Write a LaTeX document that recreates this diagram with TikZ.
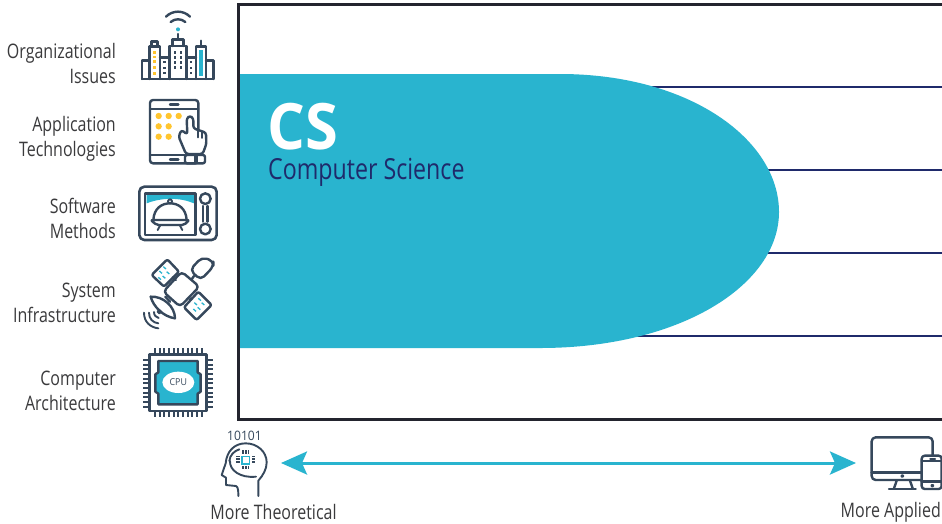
\documentclass[tikz,border=0pt]{standalone}
\usepackage{fontspec}
\setmainfont[FakeStretch=0.8]{Open Sans}
\newfontfamily\csbold[FakeStretch=0.93]{Open Sans}
\usetikzlibrary{arrows.meta}
\definecolor{teal1}{HTML}{29B4CF}
\definecolor{navy}{HTML}{1F2A6B}
\definecolor{slate}{HTML}{36485C}
\definecolor{frameblk}{HTML}{23242E}
\definecolor{gold}{HTML}{FFC52F}
\definecolor{greytxt}{HTML}{3A3A3C}
\tikzset{
  lab/.style={font=\fontsize{20}{25}\selectfont,text=greytxt,align=right,anchor=east,inner sep=0pt},
  captext/.style={font=\fontsize{20}{25}\selectfont,text=greytxt,inner sep=0pt},
  ico/.style={draw=slate,line width=2.4pt,line join=round,line cap=round},
  thin ico/.style={draw=slate,line width=1.9pt,line join=round,line cap=round},
  rowline/.style={draw=navy,line width=2.3pt},
  third/.style={scale=1/3}
}
\begin{document}
\begin{tikzpicture}[x=1pt,y=-1pt]
\useasboundingbox (0,0) rectangle (942,523);
\fill[white] (0,0) rectangle (942,523);
% rows
\coordinate (r1) at (942,87); \coordinate (r2) at (942,170); \coordinate (r3) at (942,253); \coordinate (r4) at (942,336);
\coordinate (l1) at (600,87); \coordinate (l2) at (700,170); \coordinate (l3) at (700,253); \coordinate (l4) at (600,336);
\foreach \i in {1,2,3,4} \draw[rowline] (l\i) -- (r\i);
% blob
\fill[teal1] (238,74) -- (560,74) .. controls (690,74) and (779,140) .. (779,212)
  .. controls (779,285) and (680,348) .. (540,348) -- (238,348) -- cycle;
% frame
\draw[frameblk,line width=3pt] (942,4) -- (238,4) -- (238,419) -- (942,419);
% texts
\node[anchor=base west,inner sep=0pt,text=white] (cs) at (267,149) {\fontsize{64}{64}\selectfont\csbold\bfseries CS};
\node[anchor=base west,inner sep=0pt,text=navy] (csname) at (268,179) {\fontsize{29}{32}\selectfont Computer Science};
\node[lab] (t1) at (116,63) {Organizational\\Issues};
\node[lab] (t2) at (116,139) {Application\\Technologies};
\node[lab] (t3) at (116,218) {Software\\Methods};
\node[lab] (t4) at (116,302.5) {System\\Infrastructure};
\node[lab] (t5) at (116,391) {Computer\\Architecture};
\node[captext] (theory) at (273.5,512) {More Theoretical};
\node[captext,anchor=east] (applied) at (941,512) {More Applied};
\node[inner sep=0pt,text=slate] (bits) at (244.5,436) {\fontsize{13}{13}\selectfont\csbold 10101};
% arrow
\coordinate (al) at (281,463); \coordinate (ar) at (856,463);
\draw[teal1,line width=3pt,{Stealth[length=26pt,width=23pt,inset=5pt]}-{Stealth[length=26pt,width=23pt,inset=5pt]}] (al) -- (ar);
% city
\begin{scope}[shift={(130,0)},third]
\draw[ico] (108,50) .. controls (128,30) and (160,30) .. (180,50);
\draw[ico] (122,66) .. controls (135,55) and (153,55) .. (166,66);
\fill[teal1] (144,88) circle (6);
\draw[ico] (36,237) -- (250,237);
\draw[ico] (36,237) -- (36,182) -- (58,182);
\draw[ico] (250,237) -- (250,182) -- (228,182);
\draw[ico] (58,237) -- (58,140) -- (90,140) -- (90,237);
\draw[ico] (90,172) -- (118,172);
\draw[ico] (118,237) -- (118,138) -- (170,138) -- (170,237);
\draw[ico] (170,172) -- (198,172);
\draw[ico] (198,237) -- (198,140) -- (228,140) -- (228,237);
\draw[ico] (128,138) -- (128,118) -- (160,118) -- (160,138);
\draw[ico] (144,118) -- (144,102);
\draw[ico] (65,140) -- (65,125) -- (82,125) -- (82,140);
\draw[ico] (213,140) -- (213,122);
\fill[teal1] (208,150) rectangle (220,228);
\foreach \y in {157,171,185,203,220} \fill[gold] (69,\y-4) rectangle (78,\y+4);
\foreach \y in {157,172,187,203} \foreach \x in {135,153} \fill[slate] (\x-3.5,\y-4) rectangle (\x+3.5,\y+4);
\foreach \y in {187,203,218} {\fill[slate] (100,\y-3) rectangle (107,\y+3); \fill[slate] (180,\y-3) rectangle (187,\y+3);}
\end{scope}
% tablet
\begin{scope}[shift={(130,0)},third]
\draw[ico,rounded corners=3pt] (60,300) rectangle (205,490);
\draw[ico] (60,327) -- (205,327);
\draw[ico] (60,465) -- (165,465);
\draw[ico] (120,313) -- (145,313);
\draw[ico] (120,478) -- (145,478);
\foreach \p in {(86,348),(116,348),(146,348),(86,379),(116,379),(86,410),(116,410)} \fill[gold] \p circle (9.5);
\draw[ico,fill=white,rounded corners=2.5pt] (168,462) -- (146,410) -- (154,390) -- (172,403) -- (170,355) -- (180,347) -- (190,355) -- (190,385) -- (228,398) -- (229,432) -- (218,462) -- cycle;
\draw[thin ico] (205,392) -- (205,412);
\draw[thin ico] (217,396) -- (217,414);
\draw[ico,fill=white,rounded corners=2pt] (165,465) rectangle (225,490);
\draw[thin ico,fill=slate] (196,465) rectangle (200,490);
\end{scope}
% microwave
\begin{scope}[shift={(130,170)},third]
\draw[ico,line width=2.6pt,rounded corners=5pt] (28,50) rectangle (260,210);
\fill[teal1] (50,75) -- (192,75) -- (192,100) .. controls (150,82) and (95,82) .. (50,100) -- cycle;
\draw[ico,line width=2.6pt] (45,70) rectangle (196,195);
\draw[ico] (70,150) .. controls (72,115) and (95,100) .. (120,100) .. controls (145,100) and (168,115) .. (170,150);
\draw[thin ico] (120,94) circle (6);
\draw[ico,rounded corners=2pt] (62,150) -- (178,150) -- (162,165) -- (80,165) -- cycle;
\draw[thin ico] (90,167) -- (83,180);
\draw[thin ico] (150,167) -- (157,180);
\draw[ico] (226,86) circle (16);
\draw[ico] (226,177) circle (16);
\draw[ico] (219,108) -- (219,155);
\draw[ico] (233,108) -- (233,155);
\end{scope}
% satellite
\begin{scope}[shift={(130,170)},third]
\draw[ico,rounded corners=2pt] (112,268) -- (147,305) -- (102,350) -- (65,315) -- cycle;
\draw[ico,rounded corners=2pt] (205,365) -- (245,405) -- (200,450) -- (162,412) -- cycle;
\draw[ico,rounded corners=4pt] (155,305) -- (208,350) -- (150,410) -- (100,365) -- cycle;
\draw[ico,rounded corners=5pt] (180,300) -- (215,262) -- (250,272) -- (250,290) -- (212,330) -- cycle;
\draw[ico] (128,322) -- (137,330);
\draw[ico] (184,385) -- (180,390);
\draw[ico] (192,318) -- (185,328);
\foreach \a/\b in {100/290,88/303,110/305,98/318,85/322,205/385,193/398,215/398,203/412,190/417}
  \draw[teal1,line width=1.3pt] (\a,\b) -- (\a+8,\b+7);
\draw[ico] (62,380) .. controls (100,378) and (135,410) .. (135,445);
\draw[ico] (62,380) .. controls (70,410) and (100,440) .. (135,445);
\draw[thin ico] (88,425) circle (5);
\draw[ico] (106,380) -- (120,395);
\draw[thin ico] (72,426) .. controls (72,436) and (78,442) .. (86,444);
\draw[thin ico] (57,428) .. controls (57,446) and (68,458) .. (85,460);
\draw[thin ico] (42,428) .. controls (42,455) and (60,472) .. (85,475);
\end{scope}
% cpu
\begin{scope}[shift={(130,335)},third]
\draw[ico,line width=2.4pt] (58,58) rectangle (230,228);
\foreach \i in {0,...,10} {
  \draw[slate,line width=2pt] (75+14*\i,40) -- (75+14*\i,58);
  \draw[slate,line width=2pt] (75+14*\i,228) -- (75+14*\i,245);
  \draw[slate,line width=2pt] (40,75+14*\i) -- (58,75+14*\i);
  \draw[slate,line width=2pt] (230,75+14*\i) -- (248,75+14*\i);
}
\draw[ico,fill=teal1] (85,78) -- (203,78) -- (203,112) -- (212,118) -- (212,170) -- (203,176) -- (203,208) -- (85,208) -- (85,176) -- (76,170) -- (76,118) -- (85,112) -- cycle;
\fill[white] (145,142) ellipse (48 and 32);
\node[inner sep=0pt,text=slate] (cpu) at (145,142) {\fontsize{9.5}{9.5}\selectfont\csbold CPU};
\end{scope}
% head
\begin{scope}[shift={(130,335)},third]
\draw[thin ico] (385,483) -- (385,437) .. controls (400,420) and (410,402) .. (410,382) .. controls (410,350) and (382,325) .. (347,325)
 .. controls (312,325) and (290,350) .. (287,385) -- (275,420) -- (288,428) -- (288,450) -- (318,453) .. controls (325,456) and (325,470) .. (325,483);
\draw[thin ico] (300,378) .. controls (298,405) and (330,430) .. (378,425);
\draw[thin ico] (298,378) .. controls (300,360) and (312,348) .. (328,343);
\draw[teal1,line width=1.4pt,fill=white] (336,364) rectangle (359,387);
\foreach \i in {0,1,2} {
  \fill[slate] (337+8*\i,346) rectangle (342+8*\i,356);
  \fill[slate] (337+8*\i,393) rectangle (342+8*\i,403);
  \fill[slate] (319,362+8*\i) rectangle (330,367+8*\i);
  \fill[slate] (365,362+8*\i) rectangle (376,367+8*\i);
}
\end{scope}
% devices
\begin{scope}[shift={(820,420)},third]
\draw[ico,rounded corners=4pt] (305,180) -- (155,180) -- (155,52) -- (338,52) -- (338,107);
\draw[ico] (155,158) -- (305,158);
\draw[thin ico] (247,168) circle (3);
\draw[ico] (230,182) -- (222,205);
\draw[ico] (270,182) -- (278,205);
\draw[ico] (207,207) -- (287,207);
\draw[ico,rounded corners=3pt] (305,107) rectangle (365,207);
\draw[ico] (305,123) -- (365,123);
\draw[ico] (305,185) -- (365,185);
\draw[ico] (331,117) -- (345,117);
\draw[thin ico] (337,197) circle (3);
\end{scope}
\end{tikzpicture}
\end{document}
